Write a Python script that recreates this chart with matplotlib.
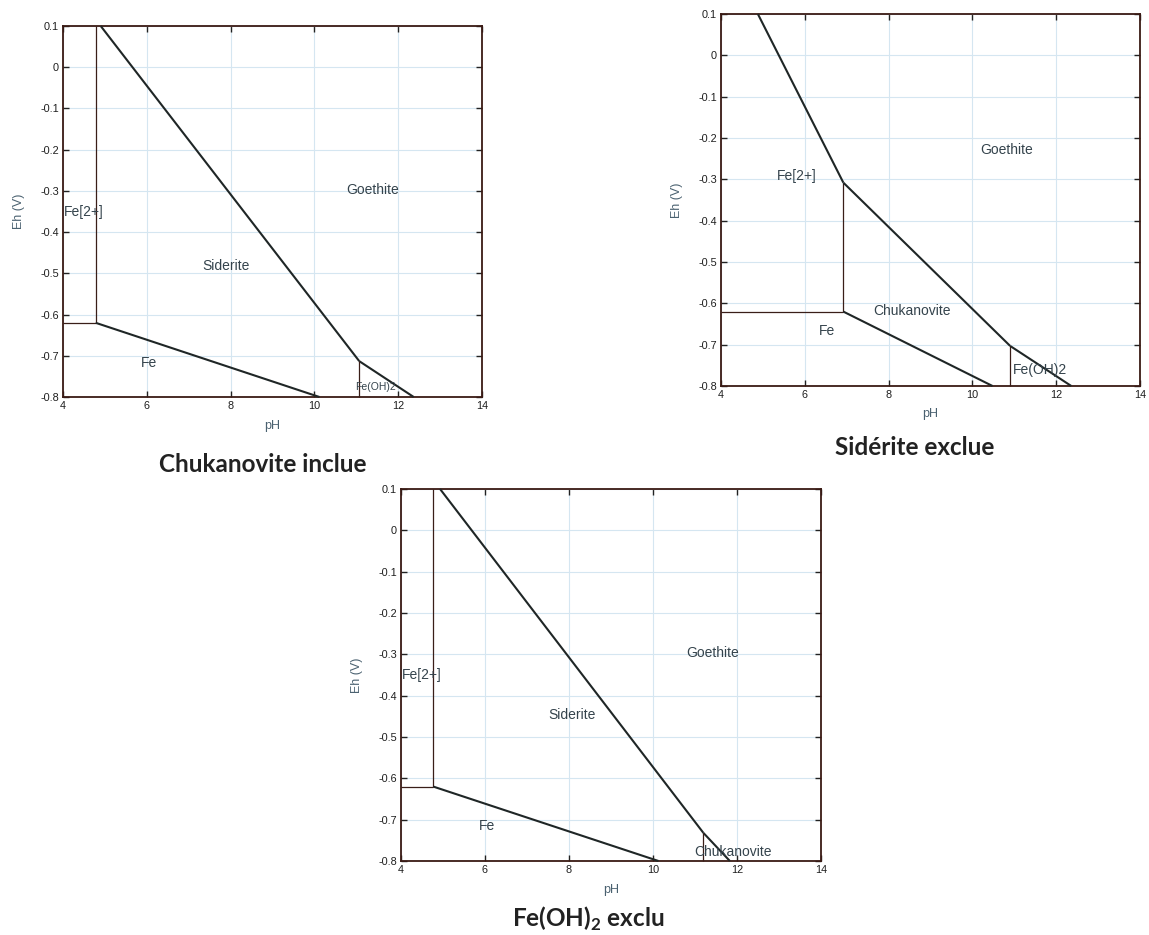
import matplotlib
matplotlib.use("Agg")
import matplotlib.pyplot as plt

plt.rcParams['font.family'] = ['Liberation Sans', 'DejaVu Sans']
plt.rcParams['mathtext.fontset'] = 'custom'
plt.rcParams['mathtext.rm'] = 'Lato'
plt.rcParams['mathtext.bf'] = 'Lato:bold'

# ---------------- data ----------------
ph_ticks = [4, 6, 8, 10, 12, 14]
eh_ticks = [0.1, 0, -0.1, -0.2, -0.3, -0.4, -0.5, -0.6, -0.7, -0.8]
eh_tick_labels = ['0.1', '0', '-0.1', '-0.2', '-0.3', '-0.4', '-0.5', '-0.6', '-0.7', '-0.8']

titles = ["Chukanovite inclue", "Sidérite exclue", r"Fe(OH)$_\mathbf{2}$ exclu"]

# Panel 1 : Chukanovite inclue  (boundaries pH, Eh)
p1_fe2_sid_x, p1_fe2_sid_y = [4.78, 4.78], [0.1, -0.62]
p1_fe_fe2_x, p1_fe_fe2_y = [4.0, 4.78], [-0.62, -0.62]
p1_fe_sid_x, p1_fe_sid_y = [4.78, 10.12], [-0.62, -0.80]
p1_sid_goe_x, p1_sid_goe_y = [4.90, 11.07], [0.1, -0.713]
p1_feoh_goe_x, p1_feoh_goe_y = [11.07, 12.37], [-0.713, -0.80]
p1_sid_feoh_x, p1_sid_feoh_y = [11.07, 11.07], [-0.713, -0.80]
p1_labels = ["Goethite", "Fe[2+]", "Siderite", "Fe", "Fe(OH)2"]
p1_label_x = [11.40, 4.02, 7.90, 6.05, 11.45]
p1_label_y = [-0.298, -0.351, -0.481, -0.717, -0.775]

# Panel 2 : Sidérite exclue
p2_fe_fe2_x, p2_fe_fe2_y = [4.0, 6.92], [-0.62, -0.62]
p2_fe2_chuk_x, p2_fe2_chuk_y = [6.92, 6.92], [-0.62, -0.308]
p2_fe2_goe_x, p2_fe2_goe_y = [4.88, 6.92], [0.1, -0.308]
p2_chuk_goe_x, p2_chuk_goe_y = [6.92, 10.90], [-0.308, -0.703]
p2_feoh_goe_x, p2_feoh_goe_y = [10.90, 12.36], [-0.703, -0.80]
p2_chuk_feoh_x, p2_chuk_feoh_y = [10.90, 10.90], [-0.703, -0.80]
p2_fe_chuk_x, p2_fe_chuk_y = [6.92, 10.48], [-0.62, -0.80]
p2_labels = ["Goethite", "Fe[2+]", "Chukanovite", "Fe", "Fe(OH)2"]
p2_label_x = [10.82, 5.81, 8.57, 6.53, 11.62]
p2_label_y = [-0.229, -0.291, -0.618, -0.667, -0.761]

# Panel 3 : Fe(OH)2 exclu
p3_fe2_sid_x, p3_fe2_sid_y = [4.77, 4.77], [0.1, -0.62]
p3_fe_fe2_x, p3_fe_fe2_y = [4.0, 4.77], [-0.62, -0.62]
p3_fe_sid_x, p3_fe_sid_y = [4.77, 10.13], [-0.62, -0.80]
p3_sid_goe_x, p3_sid_goe_y = [4.93, 11.20], [0.1, -0.732]
p3_chuk_goe_x, p3_chuk_goe_y = [11.20, 11.83], [-0.732, -0.80]
p3_sid_chuk_x, p3_sid_chuk_y = [11.20, 11.20], [-0.732, -0.80]
p3_labels = ["Goethite", "Fe[2+]", "Siderite", "Fe", "Chukanovite"]
p3_label_x = [11.41, 4.02, 8.06, 6.04, 11.91]
p3_label_y = [-0.297, -0.351, -0.446, -0.716, -0.779]

# ---------------- style ----------------
THICK = '#1f2626'
THIN = '#3a1e18'
SPINE = '#3a1a14'
GRID = '#d5e6f1'
LABEL_C = '#34434c'
AXLAB_C = '#4a6170'

fig = plt.figure(figsize=(11.49, 9.35), dpi=100)

W, H = 1149.0, 935.0
boxes = [(63, 26, 482, 397), (721, 14, 1140, 386), (401, 489, 821, 861)]
axes = []
for (l, t, r, b) in boxes:
    ax = fig.add_axes([l / W, 1 - b / H, (r - l) / W, (b - t) / H])
    axes.append(ax)


def setup(ax):
    ax.set_xlim(4, 14)
    ax.set_ylim(-0.8, 0.1)
    ax.set_xticks(ph_ticks)
    ax.set_yticks(eh_ticks)
    ax.set_yticklabels(eh_tick_labels)
    ax.grid(True, color=GRID, linewidth=0.8)
    ax.set_axisbelow(True)
    ax.tick_params(direction='in', length=4, width=1.0, color='#222222',
                   top=True, right=True, labelsize=7.8, labelcolor='#1e1e1e', pad=3)
    for s in ax.spines.values():
        s.set_color(SPINE)
        s.set_linewidth(1.3)
    ax.set_xlabel('pH', fontsize=9, color=AXLAB_C, labelpad=6)
    ax.set_ylabel('Eh (V)', fontsize=9, color=AXLAB_C, labelpad=11)


def seg(ax, x, y, thick):
    if thick:
        ax.plot(x, y, color=THICK, linewidth=1.5, solid_capstyle='butt', clip_on=False, zorder=3)
    else:
        ax.plot(x, y, color=THIN, linewidth=0.9, solid_capstyle='butt', clip_on=False, zorder=3)


for ax in axes:
    setup(ax)

ax1, ax2, ax3 = axes
seg(ax1, p1_fe2_sid_x, p1_fe2_sid_y, False)
seg(ax1, p1_fe_fe2_x, p1_fe_fe2_y, False)
seg(ax1, p1_fe_sid_x, p1_fe_sid_y, True)
seg(ax1, p1_sid_goe_x, p1_sid_goe_y, True)
seg(ax1, p1_feoh_goe_x, p1_feoh_goe_y, True)
seg(ax1, p1_sid_feoh_x, p1_sid_feoh_y, False)
for txt, x, y in zip(p1_labels, p1_label_x, p1_label_y):
    if txt == "Fe[2+]":
        ax1.text(x, y, txt, fontsize=10, color=LABEL_C, ha='left', va='center')
    elif txt == "Fe(OH)2":
        ax1.text(x, y, txt, fontsize=7.5, color=LABEL_C, ha='center', va='center')
    else:
        ax1.text(x, y, txt, fontsize=10, color=LABEL_C, ha='center', va='center')

seg(ax2, p2_fe_fe2_x, p2_fe_fe2_y, False)
seg(ax2, p2_fe2_chuk_x, p2_fe2_chuk_y, False)
seg(ax2, p2_fe2_goe_x, p2_fe2_goe_y, True)
seg(ax2, p2_chuk_goe_x, p2_chuk_goe_y, True)
seg(ax2, p2_feoh_goe_x, p2_feoh_goe_y, True)
seg(ax2, p2_chuk_feoh_x, p2_chuk_feoh_y, False)
seg(ax2, p2_fe_chuk_x, p2_fe_chuk_y, True)
for txt, x, y in zip(p2_labels, p2_label_x, p2_label_y):
    ax2.text(x, y, txt, fontsize=10, color=LABEL_C, ha='center', va='center')

seg(ax3, p3_fe2_sid_x, p3_fe2_sid_y, False)
seg(ax3, p3_fe_fe2_x, p3_fe_fe2_y, False)
seg(ax3, p3_fe_sid_x, p3_fe_sid_y, True)
seg(ax3, p3_sid_goe_x, p3_sid_goe_y, True)
seg(ax3, p3_chuk_goe_x, p3_chuk_goe_y, True)
seg(ax3, p3_sid_chuk_x, p3_sid_chuk_y, False)
for txt, x, y in zip(p3_labels, p3_label_x, p3_label_y):
    if txt == "Fe[2+]":
        ax3.text(x, y, txt, fontsize=10, color=LABEL_C, ha='left', va='center')
    else:
        ax3.text(x, y, txt, fontsize=10, color=LABEL_C, ha='center', va='center')

# ---------------- captions ----------------
cap_pos = [(263, 472), (915, 455), (588, 927)]
for txt, (cx, cy) in zip(titles, cap_pos):
    fig.text(cx / W, 1 - cy / H, txt, fontsize=17.5, fontweight='bold',
             family='Lato', color='#222222', ha='center', va='baseline')

fig.savefig('out.png', dpi=100, facecolor='white')
